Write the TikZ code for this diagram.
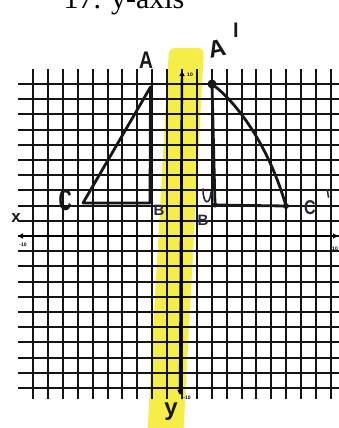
\documentclass[tikz,border=0pt]{standalone}
\usepackage{fontspec}
\setmainfont{Liberation Serif}
\newfontfamily\handfont{Liberation Sans}
\usetikzlibrary{arrows.meta,positioning}
\definecolor{highlight}{RGB}{246,238,72}
\definecolor{pencil}{RGB}{24,22,26}
\definecolor{inkblue}{RGB}{40,38,70}

\begin{document}
\begin{tikzpicture}[x=1pt, y=-1pt,
    gridline/.style={line width=2pt, black!92},
    axisline/.style={line width=2.4pt, black, {Triangle[length=5pt,width=5pt]}-{Triangle[length=5pt,width=5pt]}},
    side/.style={line width=2.8pt, pencil, line cap=round, line join=round},
    hand/.style={font=\handfont\bfseries\fontsize{#1}{#1}\selectfont, pencil, inner sep=0pt},
    hand/.default=22,
    ticklabel/.style={font=\handfont\bfseries\fontsize{5}{5}\selectfont, inner sep=0pt},
    vertexdot/.style={circle, fill=pencil, inner sep=0pt, minimum size=#1}
]
    \useasboundingbox[fill=white] (0,0) rectangle (338,428);

    % highlighted y-axis
    \fill[highlight, rounded corners=6pt] (147,440) -- (169,48) -- (204,48) -- (183,440) -- cycle;

    % grid
    \foreach \i in {-10,...,10}
        \draw[gridline] ({round(182+14.9*\i)},69) -- ({round(182+14.9*\i)},399);
    \foreach \j in {-10,...,10}
        \draw[gridline] (18,{round(236-15.2*\j)}) -- (345,{round(236-15.2*\j)});

    % axes
    \draw[axisline] (18,236) -- (338,236);
    \draw[axisline] (182,71) -- (180,395);

    \node[ticklabel] (ytop) at (190,75) {10};
    \node[ticklabel] (ybot) at (187,398) {-10};
    \node[ticklabel] (xleft) at (23,245) {-10};
    \node[ticklabel] (xright) at (335,249) {10};

    \node[hand=17] (xname) at (16,218) {x};
    \node[hand=24] (yname) at (171,412) {y};

    \node[anchor=base, inner sep=0pt, font=\fontsize{30}{30}\selectfont] (title) at (124,8.5) {17. y-axis};

    % pre-image
    \coordinate (A) at (150.5,87);
    \coordinate (B) at (150,203);
    \coordinate (C) at (83,203);
    \draw[side] (C) -- (B) -- (A) -- cycle;

    \node[hand=24, xscale=0.8] (Alab) at (146,60) {A};
    \node[hand=30, xscale=0.6] (Clab) at (65,200) {C};
    \node[hand=15, inkblue] (Blab) at (159,210) {B};

    % image
    \coordinate (A1) at (212,84);
    \coordinate (B1) at (215,205);
    \coordinate (C1) at (286,206);
    \draw[side] (A1) -- (B1) -- (C1);
    \draw[side] (A1) .. controls (240,105) and (270,150) .. (C1);
    \node[vertexdot=9pt] (A1dot) at (A1) {};
    \node[vertexdot=5pt] (B1dot) at (B1) {};
    \node[vertexdot=6pt] (C1dot) at (C1) {};

    \node[hand=24, rotate=12] (A1lab) at (217,49) {A};
    \node[hand=20] (A1mark) at (236,30) {l};
    \node[hand=15, inkblue] (B1lab) at (203,220) {B};
    \draw[inkblue, line width=1.6pt, line cap=round] (203,189) .. controls (203,205) and (210,206) .. (211,192);
    \node[hand=20, xscale=0.8, inkblue] (C1lab) at (310,208) {C};
    \node[hand=12, inkblue, rotate=10] (C1mark) at (328,194) {l};
\end{tikzpicture}
\end{document}
